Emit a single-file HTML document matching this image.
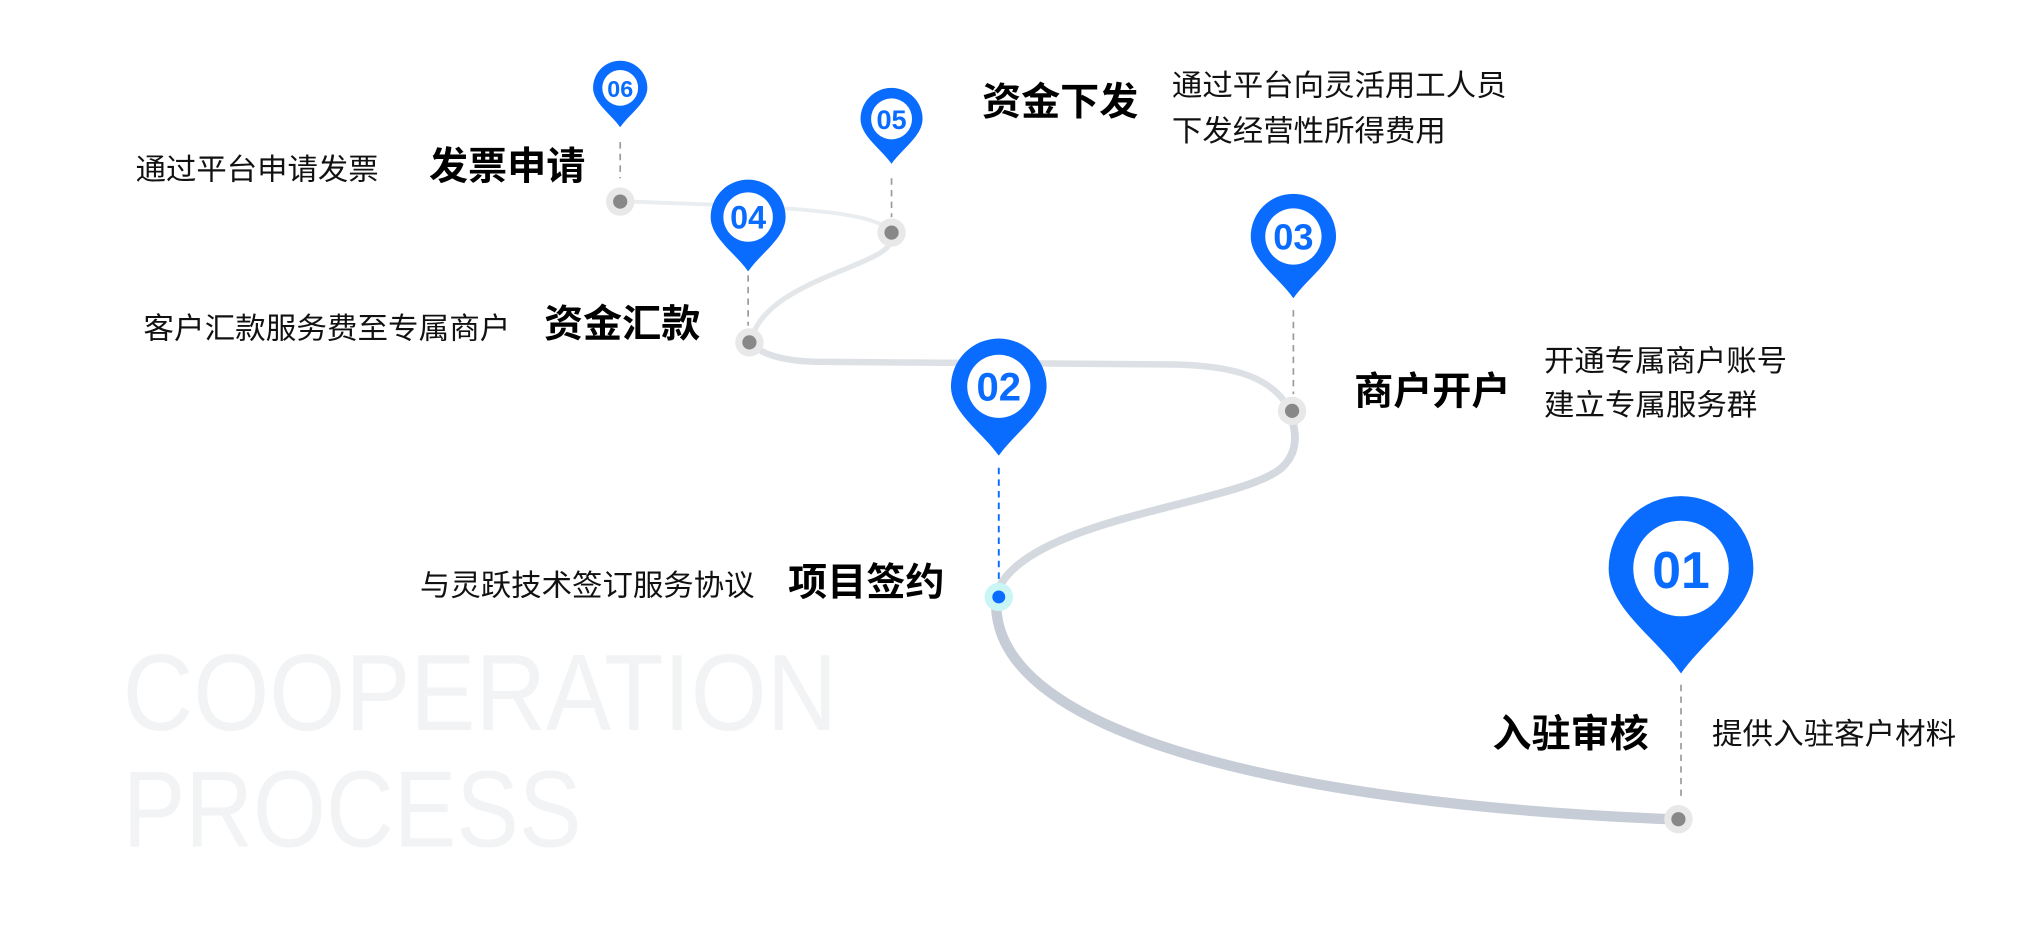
<!DOCTYPE html>
<html><head><meta charset="utf-8"><style>
html,body{margin:0;padding:0;background:#fff;}
svg{display:block;}
text{font-family:"Liberation Sans","Noto Sans CJK SC",sans-serif;}
</style></head><body>
<svg width="2026" height="940" viewBox="0 0 1568 727.5" xmlns="http://www.w3.org/2000/svg">
<defs>
<g id="pin"><path d="M0,1.45 C-0.35,0.95 -1,0.55 -1,0 A1,1 0 1 1 1,0 C1,0.55 0.35,0.95 0,1.45Z" fill="#0a6cff"/><circle r="0.66" fill="#fff"/></g>
</defs>
<text x="95" y="565" font-size="84" fill="#f2f3f4" font-weight="300" textLength="553" lengthAdjust="spacingAndGlyphs">COOPERATION</text>
<text x="95" y="655" font-size="84" fill="#f2f3f4" font-weight="300" textLength="355" lengthAdjust="spacingAndGlyphs">PROCESS</text>
<path d="M1292,634 C1000,622 775,570 771,470" fill="none" stroke="#c6cdd6" stroke-width="8"/>
<path d="M773,455 C800,400 960,390 992,362 C1005,350 1003,335 1000,325" fill="none" stroke="#d3d9df" stroke-width="6"/>
<path d="M995,312 C980,290 950,282 900,282 L630,280 C600,279 588,272 585,268" fill="none" stroke="#dde1e6" stroke-width="5"/>
<path d="M583,258 C600,215 690,205 690,185" fill="none" stroke="#e4e7ea" stroke-width="4"/>
<path d="M686,176 C665,162 600,160 488,156" fill="none" stroke="#eaedf0" stroke-width="3"/>
<g stroke="#9a9a9a" stroke-width="1.3" stroke-dasharray="5,4" fill="none">
<line x1="480" y1="110" x2="480" y2="138"/>
<line x1="690" y1="138" x2="690" y2="168"/>
<line x1="579" y1="213" x2="579" y2="252"/>
<line x1="1001" y1="240" x2="1001" y2="305"/>
<line x1="1301" y1="530" x2="1301" y2="620"/>
</g>
<line x1="773" y1="362" x2="773" y2="452" stroke="#0a6cff" stroke-width="1.5" stroke-dasharray="5,4"/>
<g>
<circle cx="480" cy="156" r="11" fill="#e8e8e8"/><circle cx="480" cy="156" r="5.5" fill="#888"/>
<circle cx="690" cy="180" r="11" fill="#e8e8e8"/><circle cx="690" cy="180" r="5.5" fill="#888"/>
<circle cx="580" cy="265" r="11" fill="#e8e8e8"/><circle cx="580" cy="265" r="5.5" fill="#888"/>
<circle cx="1000" cy="318" r="11" fill="#e8e8e8"/><circle cx="1000" cy="318" r="5.5" fill="#888"/>
<circle cx="1299" cy="634" r="11" fill="#e8e8e8"/><circle cx="1299" cy="634" r="5.5" fill="#888"/>
<circle cx="773" cy="462" r="11" fill="#c9f6f4"/><circle cx="773" cy="462" r="5" fill="#0a6cff"/>
</g>
<g transform="translate(480,68) scale(21)"><use href="#pin"/></g>
<g transform="translate(690,92) scale(24)"><use href="#pin"/></g>
<g transform="translate(579,168) scale(29)"><use href="#pin"/></g>
<g transform="translate(1001,183) scale(33)"><use href="#pin"/></g>
<g transform="translate(773,299) scale(37)"><use href="#pin"/></g>
<g transform="translate(1301,440) scale(56)"><use href="#pin"/></g>
<g fill="#0a6cff" font-weight="bold" text-anchor="middle">
<text x="480" y="75" font-size="18">06</text>
<text x="690" y="100" font-size="21">05</text>
<text x="579" y="177" font-size="25">04</text>
<text x="1001" y="193" font-size="28">03</text>
<text x="773" y="310" font-size="31">02</text>
<text x="1301" y="455" font-size="40">01</text>
</g>
<g fill="#111" font-size="23">
<text x="105" y="139" textLength="188" lengthAdjust="spacingAndGlyphs">通过平台申请发票</text>
<text x="907" y="74" textLength="259" lengthAdjust="spacingAndGlyphs">通过平台向灵活用工人员</text>
<text x="907" y="109" textLength="212" lengthAdjust="spacingAndGlyphs">下发经营性所得费用</text>
<text x="111" y="262" textLength="284" lengthAdjust="spacingAndGlyphs">客户汇款服务费至专属商户</text>
<text x="1195" y="287" textLength="188" lengthAdjust="spacingAndGlyphs">开通专属商户账号</text>
<text x="1195" y="321" textLength="165" lengthAdjust="spacingAndGlyphs">建立专属服务群</text>
<text x="325" y="461" textLength="259" lengthAdjust="spacingAndGlyphs">与灵跃技术签订服务协议</text>
<text x="1325" y="576" textLength="189" lengthAdjust="spacingAndGlyphs">提供入驻客户材料</text>
</g>
<g fill="#000" font-size="30" font-weight="bold">
<text x="332" y="139" textLength="121" lengthAdjust="spacingAndGlyphs">发票申请</text>
<text x="760" y="89" textLength="121" lengthAdjust="spacingAndGlyphs">资金下发</text>
<text x="421" y="261" textLength="121" lengthAdjust="spacingAndGlyphs">资金汇款</text>
<text x="1048" y="313" textLength="121" lengthAdjust="spacingAndGlyphs">商户开户</text>
<text x="610" y="461" textLength="121" lengthAdjust="spacingAndGlyphs">项目签约</text>
<text x="1155" y="578" textLength="121" lengthAdjust="spacingAndGlyphs">入驻审核</text>
</g>
</svg>
</body></html>
